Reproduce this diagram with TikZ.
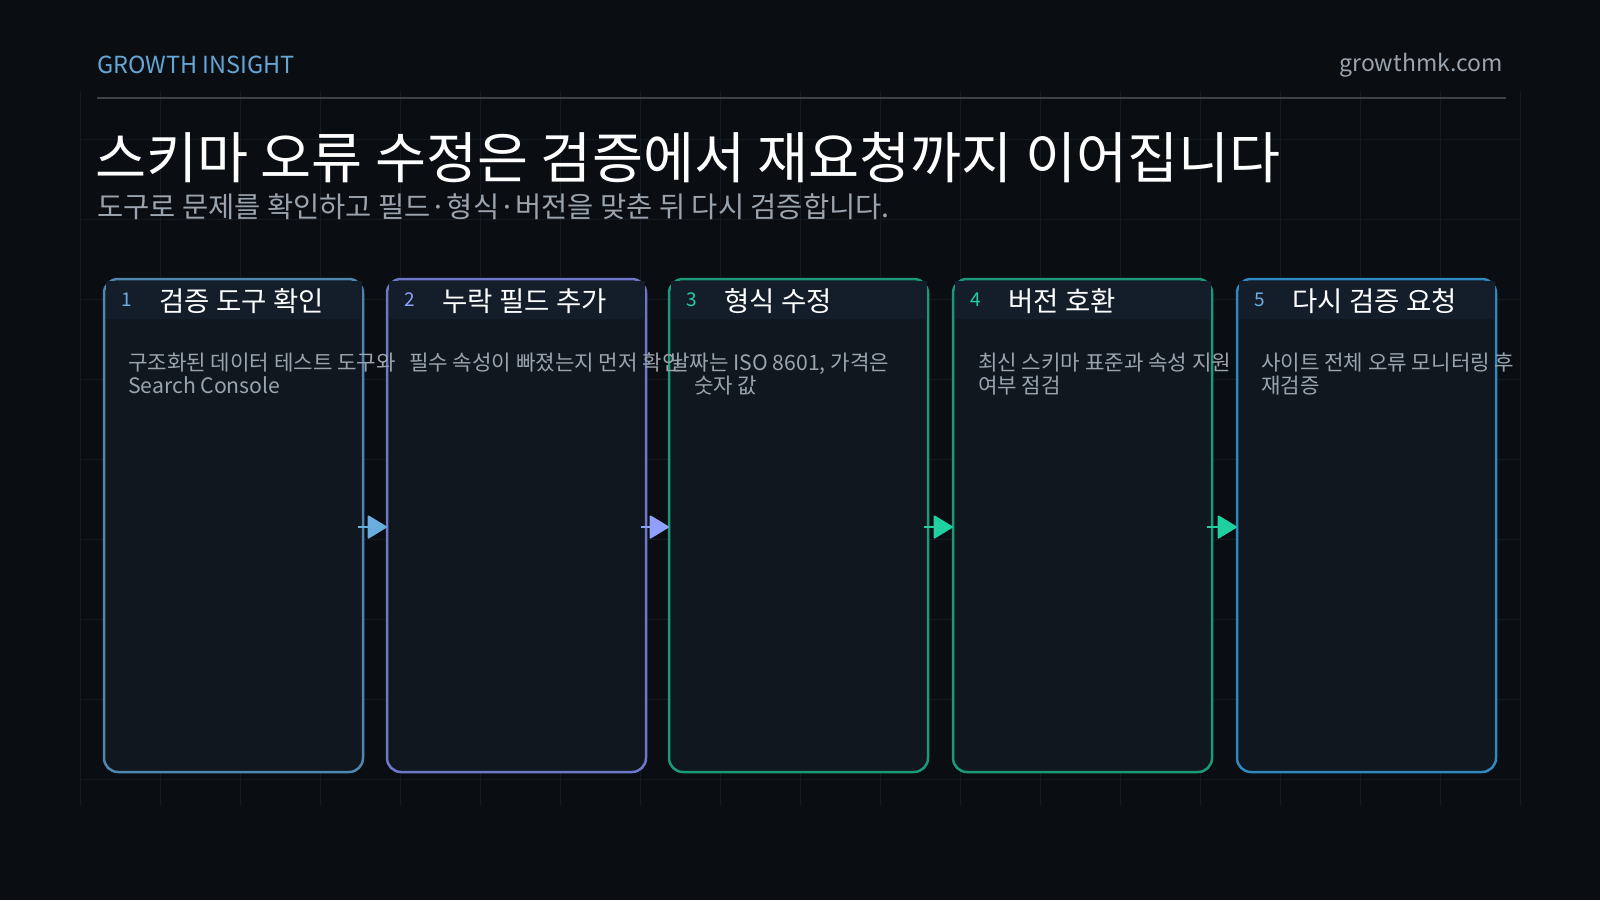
\documentclass[tikz,border=0pt]{standalone}
\usepackage{fontspec}
\setmainfont{Noto Sans CJK KR}
\usetikzlibrary{arrows.meta}
\definecolor{bg}{HTML}{0A0D12}
\definecolor{gridc}{HTML}{141A22}
\definecolor{cardf}{HTML}{10171F}
\definecolor{headf}{HTML}{131E2A}
\definecolor{desc}{HTML}{9AA4AE}
\definecolor{cA}{HTML}{4F86B0}\definecolor{aA}{HTML}{6AAEE0}
\definecolor{cB}{HTML}{6F78C8}\definecolor{aB}{HTML}{8FA0FF}
\definecolor{cC}{HTML}{1A9A78}\definecolor{aC}{HTML}{20D0A0}
\definecolor{cE}{HTML}{2F88C0}
\tikzset{
 card/.style={draw=#1, line width=2.5pt, rounded corners=14pt, fill=cardf},
 num/.style={anchor=west, font=\fontsize{19}{20}\selectfont, text=#1},
 ttl/.style={anchor=west, font=\fontsize{27.5}{30}\selectfont, text=white},
 dsc/.style={anchor=north west, font=\fontsize{21.2}{23}\selectfont, text=desc, align=left, inner sep=0pt},
 conn/.style={draw=#1, fill=#1, line width=1.5pt, line join=round, -{Triangle[length=20pt,width=24pt,round]}, shorten <=-4pt},
}
\begin{document}
\begin{tikzpicture}[x=1pt,y=-1pt]
\fill[bg] (0,0) rectangle (1600,900);
\useasboundingbox (0,0) rectangle (1600,900);
\foreach \x in {80,160,...,1520} \draw[gridc,line width=1pt] (\x,92) -- (\x,806);
\foreach \y in {139,219,...,779} \draw[gridc,line width=1pt] (80,\y) -- (1520,\y);
\node[anchor=west,inner sep=0pt,font=\fontsize{23.5}{24}\selectfont,text=aA!80!cA] (brand) at (97,65) {GROWTH INSIGHT};
\node[anchor=east,inner sep=0pt,font=\fontsize{23}{24}\selectfont,text=desc] (site) at (1503,65) {growthmk.com};
\draw[line width=2pt,draw=gridc!80!white!90!gridc] (97,98) -- (1506,98);
\node[anchor=west,inner sep=0pt,font=\fontsize{55.5}{60}\selectfont,text=white] (title) at (95,158) {스키마 오류 수정은 검증에서 재요청까지 이어집니다};
\node[anchor=west,inner sep=0pt,font=\fontsize{28.5}{30}\selectfont,text=desc] (sub) at (97,207) {도구로 문제를 확인하고 필드·형식·버전을 맞춘 뒤 다시 검증합니다.};
\foreach \i/\x/\c/\n/\t in {1/104/cA/aA/검증 도구 확인, 2/387/cB/aB/누락 필드 추가, 3/669/cC/aC/형식 수정, 4/953/cC/aC/버전 호환, 5/1237/cE/aA/다시 검증 요청}{
  \path[card=\c] (\x,279) rectangle ++(259,493);
  \fill[headf] (\x+1.5,280.5) rectangle ++(256,38);
  \node[num=\n] (n\i) at (\x+14,300) {\i};
  \node[ttl] (t\i) at (\x+52,301) {\t};
}
\coordinate (r1) at (362,527); \coordinate (l2) at (387,527);
\coordinate (r2) at (645,527); \coordinate (l3) at (669,527);
\coordinate (r3) at (928,527); \coordinate (l4) at (953,527);
\coordinate (r4) at (1211,527); \coordinate (l5) at (1237,527);
\draw[conn=aA] (r1) -- (l2);
\draw[conn=aB] (r2) -- (l3);
\draw[conn=aC] (r3) -- (l4);
\draw[conn=aC] (r4) -- (l5);
\node[dsc] (d1) at (128,353) {구조화된 데이터 테스트 도구와\\Search Console};
\node[dsc] (d2) at (409,353) {필수 속성이 빠졌는지 먼저 확인};
\node[dsc] (d3) at (670,353) {날짜는 ISO 8601, 가격은};
\node[dsc] (d3b) at (694,376) {숫자 값};
\node[dsc] (d4) at (978,353) {최신 스키마 표준과 속성 지원\\여부 점검};
\node[dsc] (d5) at (1261,353) {사이트 전체 오류 모니터링 후\\재검증};
\end{tikzpicture}
\end{document}
